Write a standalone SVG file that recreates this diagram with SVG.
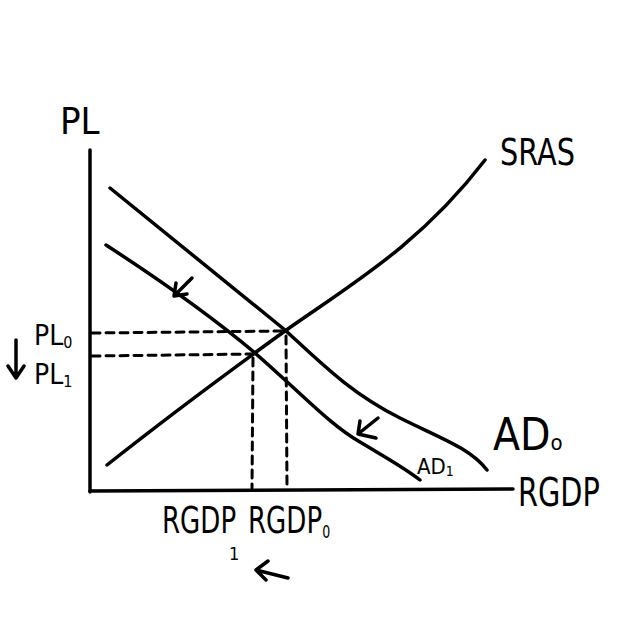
<svg xmlns="http://www.w3.org/2000/svg" width="640" height="640" viewBox="0 0 640 640">
<style>
.ln{fill:none;stroke:#000;stroke-width:3.5;stroke-linecap:round;stroke-linejoin:round}
.ds{fill:none;stroke:#000;stroke-width:3;stroke-dasharray:8 6;stroke-linecap:round}
.t{font-family:"DejaVu Sans Condensed","DejaVu Sans",sans-serif;fill:#000}
</style>
<rect width="640" height="640" fill="#fff"/>
<g id="axes">
<path class="ln" d="M90,150 L90,492"/>
<path class="ln" d="M90,491 L513,489"/>
<text class="t" x="60" y="134" font-size="38">PL</text>
<text class="t" font-size="32" transform="translate(518,506) scale(1,1.2)">RGDP</text>
</g>
<g id="connectors">
<path class="ln" d="M107,465 C170,415 220,378 285,331 C350,285 420,245 485,160"/>
<path class="ln" d="M110,188 L285,330 C320,362 350,393 400,418 C440,438 470,448 487,470"/>
<path class="ln" d="M106,245 C160,280 210,315 255,353 C300,392 330,425 360,442 C385,457 405,468 420,480"/>
<path class="ds" d="M92,333 L285,331"/>
<path class="ds" d="M92,356 L255,354"/>
<path class="ds" d="M286,336 L287,488"/>
<path class="ds" d="M253,358 L252,488"/>
<path class="ln" d="M192,278 L174,296 M174,296 L176,283 M174,296 L187,294"/>
<path class="ln" d="M378,418 L358,434 M358,434 L360,421 M358,434 L376,438"/>
<path class="ln" d="M16,340 L16,378 M8,366 L16,378 L24,366"/>
<path class="ln" d="M288,578 L256,570 M256,570 L268,561 M256,570 L266,580"/>
</g>
<g id="SRAS"><text class="t" font-size="32" transform="translate(500,165) scale(1,1.15)">SRAS</text></g>
<g id="AD0"><text class="t" x="493" y="450" font-size="44">AD<tspan font-size="22">o</tspan></text></g>
<g id="AD1"><text class="t" x="417" y="474" font-size="22">AD<tspan font-size="14" dy="2">1</tspan></text></g>
<g id="PL0"><text class="t" x="34" y="345" font-size="28">PL<tspan font-size="16" dy="3">0</tspan></text></g>
<g id="PL1"><text class="t" x="34" y="384" font-size="28">PL<tspan font-size="16" dy="3">1</tspan></text></g>
<g id="RGDP1"><text class="t" font-size="29" transform="translate(162,533) scale(1,1.3)">RGDP</text><text class="t" x="229" y="560" font-size="18">1</text></g>
<g id="RGDP0"><text class="t" font-size="29" transform="translate(248,533) scale(1,1.3)">RGDP<tspan font-size="14" dy="4">0</tspan></text></g>
</svg>
